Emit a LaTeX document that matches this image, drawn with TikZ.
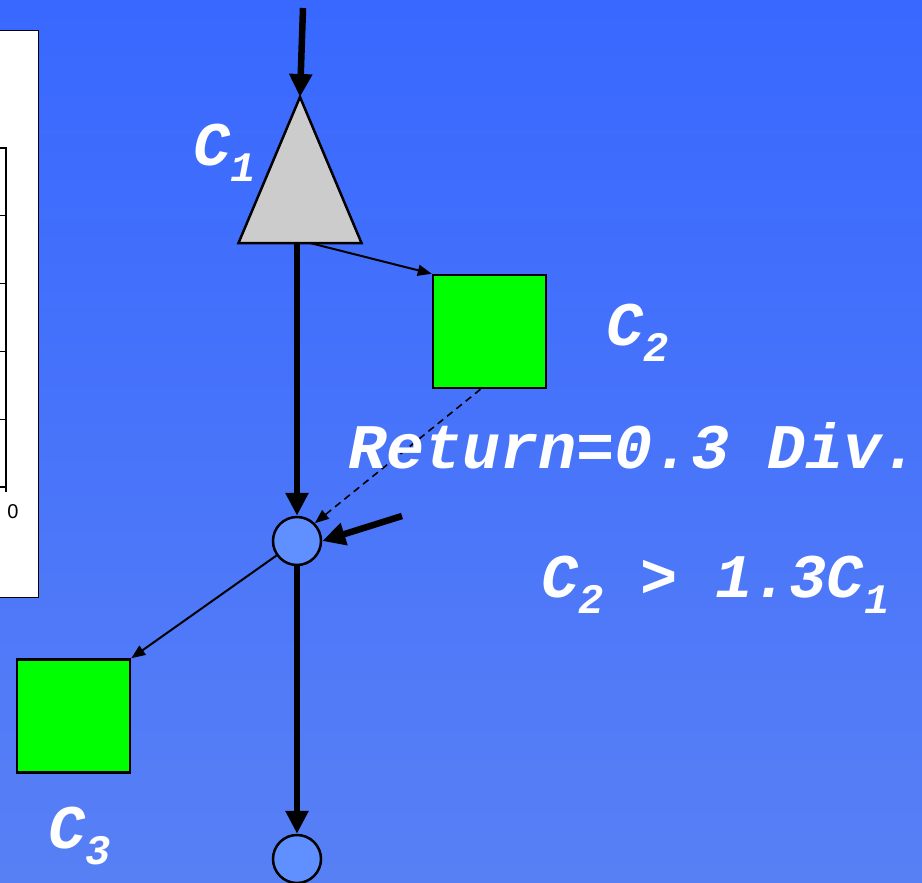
\documentclass[tikz,border=0pt]{standalone}
\usepackage{fontspec}
\newfontfamily\slidemono{Liberation Mono}
\newfontfamily\slidesans{Liberation Sans}
\usetikzlibrary{arrows.meta,shapes.geometric}
\definecolor{bgtop}{RGB}{56,104,255}
\definecolor{bgbot}{RGB}{88,128,245}
\definecolor{nodeblue}{RGB}{96,144,255}
\definecolor{trigray}{RGB}{204,204,204}
\newcommand\labfont{\slidemono\bfseries\itshape\fontsize{62}{70}\selectfont}
\newcommand\subx[1]{\raisebox{-16pt}{\fontsize{42}{42}\selectfont #1}}
\tikzset{
  bigarr/.style    = {-{Triangle[length=23pt,width=22pt]},line width=6.5pt},
  thinarr/.style   = {-{Triangle[length=14pt,width=11pt]},line width=2pt},
  dasharr/.style   = {thinarr,line width=1.6pt,dash pattern=on 7pt off 5pt},
  costbox/.style   = {draw,line width=2.5pt,fill=green,minimum size=113pt,inner sep=0pt},
  splitnode/.style = {draw,circle,line width=2.5pt,fill=nodeblue,minimum size=48pt,inner sep=0pt},
  txt/.style       = {text=white,anchor=base west,inner sep=0pt,font=\labfont}
}

\begin{document}
\begin{tikzpicture}[x=1pt,y=-1pt]
  \useasboundingbox (0,0) rectangle (922,883);
  \shade[top color=bgtop,bottom color=bgbot] (0,0) rectangle (922,883);
  % chart at the left edge, cut off
  \draw[fill=white,line width=0.8pt] (-5,30) rectangle (38,597);
  \draw[line width=1.6pt] (0,148) -- (6,148) -- (6,492);
  \draw[line width=1.6pt] (0,487) -- (6,487);
  \foreach \y in {215.8,283.6,351.4,419.2} { \draw[line width=1pt] (0,\y) -- (6,\y); }
  \node[font=\slidesans\fontsize{20}{20}\selectfont,inner sep=0pt] (zero) at (13,512) {0};

  \node[draw,fill=trigray,line width=2.5pt,isosceles triangle,isosceles triangle stretches,
        shape border rotate=90,minimum width=123pt,minimum height=146pt,
        inner sep=0pt,outer sep=0pt,anchor=apex] (c1) at (300,97) {};
  \node[costbox] (c2) at (489.5,331.5) {};
  \node[costbox] (c3) at (73.5,716) {};
  \node[splitnode] (j) at (297,541) {};
  \node[splitnode] (k) at (297,859) {};
  \coordinate (feed) at (303,8);
  \coordinate (side) at (402,516);

  \draw[bigarr] (feed) -- (c1.apex);
  \draw[bigarr] (c1.south -| j.north) -- (j);
  \draw[thinarr] ([xshift=10pt]c1.south) -- (c2.north west);
  \draw[dasharr] ([xshift=-9pt]c2.south) -- (j.45);
  \draw[bigarr] (side) -- (j.east);
  \draw[thinarr] (j) -- (c3.north east);
  \draw[bigarr] (j) -- (k);

  \node[txt] (l1) at (193,165) {C\subx{1}};
  \node[txt] (l2) at (606,345) {C\subx{2}};
  \node[txt] (l3) at (48,848) {C\subx{3}};
  \node[txt,font=\labfont\fontsize{63.5}{70}\selectfont] (ret) at (348,468) {Return=0.3 Div.};
  \node[txt] (cond) at (541,597) {C\subx{2} > 1.3C\subx{1}};
\end{tikzpicture}
\end{document}
